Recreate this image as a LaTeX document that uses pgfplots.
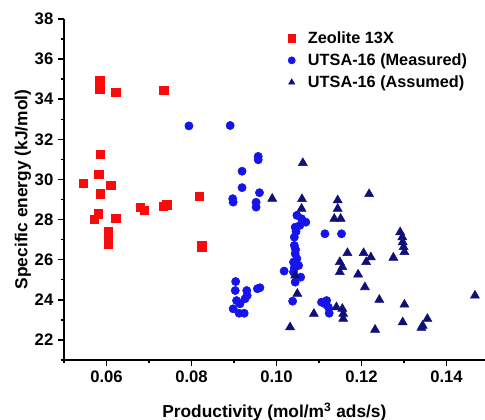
\documentclass[border=0pt]{standalone}
\usepackage{pgfplots}
\pgfplotsset{compat=1.18}
\usepackage{fontspec}
\setmainfont{Liberation Sans}
\usetikzlibrary{calc}
\definecolor{zred}{RGB}{250,10,10}
\definecolor{mblue}{RGB}{20,20,235}
\definecolor{anavy}{RGB}{15,15,120}

\begin{document}
\begin{tikzpicture}
\begin{axis}[
    name=ax,
    scale only axis,
    width=315.6pt,
    height=255.75pt,
    xmin=0.05, xmax=0.149,
    ymin=21, ymax=38,
    axis x line=bottom,
    axis y line=left,
    axis line style={-, line width=1.1pt},
    tick align=outside,
    major tick length=4.5pt,
    minor tick length=2.5pt,
    every tick/.style={black, line width=1.1pt},
    xtick={0.06,0.08,0.10,0.12,0.14},
    ytick={22,24,26,28,30,32,34,36,38},
    minor xtick={0.05,0.07,0.09,0.11,0.13},
    minor ytick={21,23,25,27,29,31,33,35,37},
    scaled x ticks=false,
    xticklabel style={/pgf/number format/.cd, fixed, fixed zerofill, precision=2},
    /pgf/number format/assume math mode=true,
    tick label style={font=\fontsize{12.5}{14}\selectfont\bfseries},
    label style={font=\fontsize{13}{15}\selectfont\bfseries},
    xlabel={Productivity (mol/m\textsuperscript{3} ads/s)},
    ylabel={Specific energy (kJ/mol)},
    xlabel style={at={(axis description cs:0.5,-0.1525)}, anchor=center},
    ylabel style={at={(axis description cs:-0.0975,0.5)}, anchor=center},
    legend image code/.code={\path (0pt,0pt) (13pt,0pt);
        \draw[#1, mark size=2.7pt] plot coordinates {(3pt,0pt)};},
    legend style={draw=none, fill=none, font=\fontsize{12.2}{13.5}\selectfont\bfseries,
        at={(axis description cs:0.521,0.98)}, anchor=north west, row sep=2.2pt},
    legend cell align=left,
]
\addplot[only marks, mark=square*, mark size=3.1pt, draw=zred, fill=zred] coordinates {
    (0.0584,34.92) (0.0584,34.49) (0.0622,34.35) (0.0735,34.44)
    (0.0586,31.26) (0.0582,30.26) (0.0545,29.82) (0.0610,29.71)
    (0.0586,29.29) (0.0679,28.61) (0.0689,28.46) (0.0733,28.68)
    (0.0742,28.74) (0.0581,28.29) (0.0571,28.01) (0.0622,28.07)
    (0.0604,27.42) (0.0604,27.20) (0.0604,26.78) (0.0818,29.16)
    (0.0824,26.63) (0.0824,26.72)
};
\addplot[only marks, mark=*, mark size=3.1pt, draw=mblue, fill=mblue] coordinates {
    (0.0794,32.67) (0.0891,32.69) (0.0957,31.15) (0.0957,30.98)
    (0.0919,30.41) (0.0919,29.59) (0.0960,29.34) (0.0897,29.04)
    (0.0898,28.87) (0.0952,28.86) (0.0952,28.62) (0.0904,24.91)
    (0.0903,24.46) (0.0930,24.46) (0.0955,24.55) (0.0961,24.60)
    (0.0906,23.96) (0.0926,24.05) (0.0898,23.55) (0.0912,23.33)
    (0.0924,23.33) (0.0931,24.21) (0.0914,23.80)
    (0.1048,28.21) (0.1059,28.04) (0.1069,27.87) (0.1044,27.62)
    (0.1055,27.71) (0.1042,27.12) (0.1114,27.29) (0.1153,27.29)
    (0.1042,26.71) (0.1044,26.30) (0.1048,26.05) (0.1040,25.88)
    (0.1052,25.71) (0.1018,25.43) (0.1040,25.38) (0.1057,25.13)
    (0.1044,24.88) (0.1038,23.93) (0.1106,23.88) (0.1118,23.96)
    (0.1122,23.63) (0.1114,23.80) (0.1124,23.33) (0.1045,26.50)
    (0.1042,25.60) (0.1046,27.40)
};
\addplot[only marks, mark=triangle*, mark size=3.9pt, draw=anavy, fill=anavy] coordinates {
    (0.1062,30.82) (0.0990,29.04) (0.1060,29.02) (0.1059,28.54)
    (0.1144,28.96) (0.1144,28.54) (0.1136,28.04) (0.1151,28.04)
    (0.1218,29.27) (0.1291,27.37) (0.1296,27.12) (0.1297,26.87)
    (0.1299,26.63) (0.1301,26.38) (0.1167,26.33) (0.1205,26.33)
    (0.1222,26.12) (0.1211,25.88) (0.1275,26.10) (0.1149,25.88)
    (0.1155,25.63) (0.1149,25.38) (0.1192,25.26) (0.1044,25.21)
    (0.1208,24.63) (0.1049,24.30) (0.1467,24.21) (0.1242,24.00)
    (0.1301,23.76) (0.1088,23.30) (0.1141,23.63) (0.1155,23.55)
    (0.1157,23.30) (0.1157,23.05) (0.1297,22.88) (0.1355,23.05)
    (0.1344,22.71) (0.1341,22.60) (0.1032,22.63) (0.1232,22.51)
};
\legend{Zeolite 13X, UTSA-16 (Measured), UTSA-16 (Assumed)}
\end{axis}
\pgfresetboundingbox
\path[use as bounding box] ($(ax.south west)+(-48pt,-45pt)$) rectangle ($(ax.north east)+(0.2pt,14.25pt)$);
\end{tikzpicture}
\end{document}
